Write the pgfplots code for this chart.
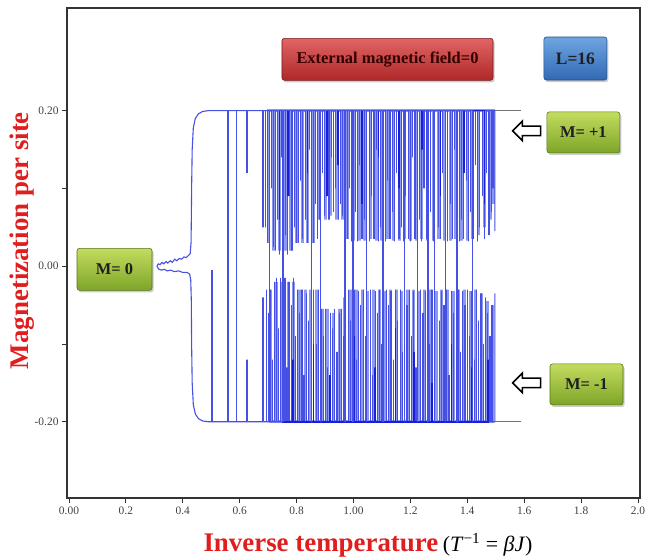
\documentclass[border=0pt]{standalone}
\usepackage{pgfplots}
\pgfplotsset{compat=1.18}
\usepackage{fontspec}
\setmainfont{Liberation Serif}
\usetikzlibrary{shadows,shapes.arrows}

\definecolor{trace}{RGB}{70,80,228}
\definecolor{tracedk}{RGB}{25,30,215}
\definecolor{tracelt}{RGB}{140,152,242}
\definecolor{labred}{RGB}{225,30,30}
\definecolor{redtop}{RGB}{225,100,100}
\definecolor{redbot}{RGB}{175,40,40}
\definecolor{bluetop}{RGB}{110,165,225}
\definecolor{bluebot}{RGB}{50,105,180}
\definecolor{greentop}{RGB}{195,220,95}
\definecolor{greenbot}{RGB}{125,165,40}

\tikzset{
  lbl/.style={rounded corners=2.5bp, line width=0.6bp,
    drop shadow={opacity=0.4,shadow xshift=1.5bp,shadow yshift=-2bp},
    font=\fontsize{16.5}{16.5}\selectfont\bfseries, text=black!88, inner sep=0pt},
  harrow/.style={single arrow, draw=black, line width=1.6bp, fill=white,
    minimum height=28bp, minimum width=0bp, inner sep=4bp,
    single arrow head extend=5bp, shape border rotate=180},
}

\begin{document}
\begin{tikzpicture}
\begin{axis}[
  scale only axis, width=573bp, height=490bp,
  xmin=-0.007, xmax=2.007, ymin=-0.298, ymax=0.332,
  axis line style={black!80, line width=1.4bp},
  tick align=outside, xtick pos=bottom, ytick pos=left,
  major tick length=5bp,
  tick style={black!80, line width=0.8bp},
  xtick={0,0.2,0.4,0.6,0.8,1.0,1.2,1.4,1.6,1.8,2.0},
  xticklabels={0.00,0.2,0.4,0.6,0.8,1.00,1.2,1.4,1.6,1.8,2.0},
  ytick={-0.2,-0.1,0,0.1,0.2},
  yticklabels={-0.20,,0.00,,0.20},
  ticklabel style={font=\fontsize{11.5}{12}\selectfont, text=black!75},
  /pgf/number format/assume math mode=true,
  clip=false,
]
\coordinate (bl) at (rel axis cs:0,0);
\coordinate (tr) at (rel axis cs:1,1);

% light dense bands (upper)
\addplot[tracelt, line width=3bp] coordinates {
(0.700,0.2)(0.700,0.03)(0.700,0.2)(0.720,0.2)(0.720,0.02)(0.720,0.2)
(0.740,0.2)(0.740,0.02)(0.740,0.2)(0.760,0.2)(0.760,0.02)(0.760,0.2)
(0.780,0.2)(0.780,0.02)(0.780,0.2)(0.800,0.2)(0.800,0.03)(0.800,0.2)
(0.820,0.2)(0.820,0.03)(0.820,0.2)(0.840,0.2)(0.840,0.03)(0.840,0.2)
(0.860,0.2)(0.860,0.03)(0.860,0.2)(0.880,0.2)(0.880,0.06)(0.880,0.2)
(0.900,0.2)(0.900,0.06)(0.900,0.2)(0.920,0.2)(0.920,0.065)(0.920,0.2)
(0.940,0.2)(0.940,0.06)(0.940,0.2)(0.960,0.2)(0.960,0.06)(0.960,0.2)
(0.980,0.2)(0.980,0.035)(0.980,0.2)(1.000,0.2)(1.000,0.033)(1.000,0.2)
(1.020,0.2)(1.020,0.033)(1.020,0.2)(1.040,0.2)(1.040,0.033)(1.040,0.2)
(1.060,0.2)(1.060,0.035)(1.060,0.2)(1.080,0.2)(1.080,0.033)(1.080,0.2)
(1.100,0.2)(1.100,0.033)(1.100,0.2)(1.120,0.2)(1.120,0.035)(1.120,0.2)
(1.140,0.2)(1.140,0.033)(1.140,0.2)(1.160,0.2)(1.160,0.033)(1.160,0.2)
(1.180,0.2)(1.180,0.035)(1.180,0.2)(1.200,0.2)(1.200,0.033)(1.200,0.2)
(1.220,0.2)(1.220,0.033)(1.220,0.2)(1.240,0.2)(1.240,0.035)(1.240,0.2)
(1.260,0.2)(1.260,0.033)(1.260,0.2)(1.280,0.2)(1.280,0.033)(1.280,0.2)
(1.300,0.2)(1.300,0.035)(1.300,0.2)(1.320,0.2)(1.320,0.033)(1.320,0.2)
(1.340,0.2)(1.340,0.033)(1.340,0.2)(1.360,0.2)(1.360,0.035)(1.360,0.2)
(1.380,0.2)(1.380,0.033)(1.380,0.2)(1.400,0.2)(1.400,0.033)(1.400,0.2)
(1.420,0.2)(1.420,0.035)(1.420,0.2)(1.440,0.2)(1.440,0.04)(1.440,0.2)
(1.460,0.2)(1.460,0.05)(1.460,0.2)(1.480,0.2)(1.480,0.06)(1.480,0.2)
(1.492,0.2)(1.492,0.08)(1.492,0.2)
};
% light dense bands (lower)
\addplot[tracelt, line width=3bp] coordinates {
(0.710,-0.2)(0.710,-0.03)(0.710,-0.2)(0.730,-0.2)(0.730,-0.02)(0.730,-0.2)
(0.750,-0.2)(0.750,-0.02)(0.750,-0.2)(0.770,-0.2)(0.770,-0.02)(0.770,-0.2)
(0.790,-0.2)(0.790,-0.02)(0.790,-0.2)(0.810,-0.2)(0.810,-0.03)(0.810,-0.2)
(0.830,-0.2)(0.830,-0.03)(0.830,-0.2)(0.850,-0.2)(0.850,-0.03)(0.850,-0.2)
(0.870,-0.2)(0.870,-0.03)(0.870,-0.2)(0.890,-0.2)(0.890,-0.055)(0.890,-0.2)
(0.910,-0.2)(0.910,-0.055)(0.910,-0.2)(0.930,-0.2)(0.930,-0.06)(0.930,-0.2)
(0.950,-0.2)(0.950,-0.055)(0.950,-0.2)(0.970,-0.2)(0.970,-0.04)(0.970,-0.2)
(0.990,-0.2)(0.990,-0.03)(0.990,-0.2)(1.010,-0.2)(1.010,-0.03)(1.010,-0.2)
(1.030,-0.2)(1.030,-0.03)(1.030,-0.2)(1.050,-0.2)(1.050,-0.032)(1.050,-0.2)
(1.070,-0.2)(1.070,-0.03)(1.070,-0.2)(1.090,-0.2)(1.090,-0.03)(1.090,-0.2)
(1.110,-0.2)(1.110,-0.032)(1.110,-0.2)(1.130,-0.2)(1.130,-0.03)(1.130,-0.2)
(1.150,-0.2)(1.150,-0.03)(1.150,-0.2)(1.170,-0.2)(1.170,-0.032)(1.170,-0.2)
(1.190,-0.2)(1.190,-0.03)(1.190,-0.2)(1.210,-0.2)(1.210,-0.03)(1.210,-0.2)
(1.230,-0.2)(1.230,-0.032)(1.230,-0.2)(1.250,-0.2)(1.250,-0.03)(1.250,-0.2)
(1.270,-0.2)(1.270,-0.03)(1.270,-0.2)(1.290,-0.2)(1.290,-0.032)(1.290,-0.2)
(1.310,-0.2)(1.310,-0.03)(1.310,-0.2)(1.330,-0.2)(1.330,-0.03)(1.330,-0.2)
(1.350,-0.2)(1.350,-0.032)(1.350,-0.2)(1.370,-0.2)(1.370,-0.03)(1.370,-0.2)
(1.390,-0.2)(1.390,-0.03)(1.390,-0.2)(1.410,-0.2)(1.410,-0.032)(1.410,-0.2)
(1.430,-0.2)(1.430,-0.03)(1.430,-0.2)(1.450,-0.2)(1.450,-0.035)(1.450,-0.2)
(1.470,-0.2)(1.470,-0.045)(1.470,-0.2)(1.488,-0.2)(1.488,-0.05)(1.488,-0.2)
};

% base trace: wiggle, brace and branches
\addplot[trace, line width=1.1bp] coordinates {
(0.309,0.0)(0.314,0.003)(0.320,0.002)(0.327,0.005)(0.333,0.003)(0.341,0.006)
(0.347,0.004)(0.356,0.007)(0.363,0.005)(0.372,0.009)(0.379,0.007)(0.388,0.010)
(0.396,0.009)(0.404,0.012)(0.412,0.011)(0.420,0.014)(0.426,0.016)(0.429,0.03)
(0.430,0.06)(0.431,0.10)(0.433,0.15)(0.437,0.178)(0.444,0.190)(0.455,0.196)(0.470,0.199)
(0.490,0.2)(1.497,0.2)(1.497,0.045)
};
\addplot[trace, line width=1.1bp] coordinates {
(0.309,0.0)(0.316,-0.004)(0.325,-0.005)(0.335,-0.004)(0.345,-0.006)(0.358,-0.005)
(0.370,-0.007)(0.385,-0.006)(0.400,-0.008)(0.415,-0.008)(0.424,-0.010)(0.428,-0.018)
(0.430,-0.045)(0.431,-0.10)(0.433,-0.15)(0.437,-0.178)(0.444,-0.190)(0.455,-0.196)
(0.470,-0.199)(0.490,-0.2)(1.497,-0.2)(1.497,-0.035)
};

% upper spikes
\addplot[trace, line width=1.2bp] coordinates {
(0.626,0.2)(0.626,0.12)(0.626,0.2)(0.682,0.2)(0.682,0.05)(0.682,0.2)
(0.690,0.2)(0.690,0.05)(0.690,0.2)(0.697,0.2)(0.697,0.03)(0.697,0.2)
(0.711,0.2)(0.711,0.10)(0.711,0.2)(0.718,0.2)(0.718,0.025)(0.718,0.2)
(0.726,0.2)(0.726,0.02)(0.726,0.2)(0.733,0.2)(0.733,0.06)(0.733,0.2)
(0.740,0.2)(0.740,0.015)(0.740,0.2)(0.747,0.2)(0.747,0.14)(0.747,0.2)
(0.755,0.2)(0.755,0.015)(0.755,0.2)(0.762,0.2)(0.762,0.04)(0.762,0.2)
(0.769,0.2)(0.769,0.015)(0.769,0.2)(0.776,0.2)(0.776,0.09)(0.776,0.2)
(0.784,0.2)(0.784,0.02)(0.784,0.2)(0.792,0.2)(0.792,0.05)(0.792,0.2)
(0.799,0.2)(0.799,0.03)(0.799,0.2)(0.807,0.2)(0.807,0.03)(0.807,0.2)
(0.815,0.2)(0.815,0.11)(0.815,0.2)(0.822,0.2)(0.822,0.035)(0.822,0.2)
(0.830,0.2)(0.830,0.06)(0.830,0.2)(0.838,0.2)(0.838,0.03)(0.838,0.2)
(0.846,0.2)(0.846,0.15)(0.846,0.2)(0.858,0.2)(0.858,0.03)(0.858,0.2)
(0.866,0.2)(0.866,0.08)(0.866,0.2)(0.874,0.2)(0.874,0.035)(0.874,0.2)
(0.882,0.2)(0.882,0.06)(0.882,0.2)(0.890,0.2)(0.890,0.12)(0.890,0.2)
(0.898,0.2)(0.898,0.065)(0.898,0.2)(0.906,0.2)(0.906,0.09)(0.906,0.2)
(0.914,0.2)(0.914,0.06)(0.914,0.2)(0.922,0.2)(0.922,0.14)(0.922,0.2)
(0.930,0.2)(0.930,0.07)(0.930,0.2)(0.938,0.2)(0.938,0.10)(0.938,0.2)
(0.946,0.2)(0.946,0.06)(0.946,0.2)(0.954,0.2)(0.954,0.08)(0.954,0.2)
(0.962,0.2)(0.962,0.065)(0.962,0.2)(0.978,0.2)(0.978,0.035)(0.978,0.2)
(0.986,0.2)(0.986,0.10)(0.986,0.2)(0.994,0.2)(0.994,0.032)(0.994,0.2)
(1.006,0.2)(1.006,0.07)(1.006,0.2)(1.014,0.2)(1.014,0.032)(1.014,0.2)
(1.022,0.2)(1.022,0.13)(1.022,0.2)(1.030,0.2)(1.030,0.035)(1.030,0.2)
(1.038,0.2)(1.038,0.06)(1.038,0.2)(1.056,0.2)(1.056,0.032)(1.056,0.2)
(1.064,0.2)(1.064,0.09)(1.064,0.2)(1.072,0.2)(1.072,0.035)(1.072,0.2)
(1.080,0.2)(1.080,0.15)(1.080,0.2)(1.088,0.2)(1.088,0.032)(1.088,0.2)
(1.096,0.2)(1.096,0.05)(1.096,0.2)(1.112,0.2)(1.112,0.032)(1.112,0.2)
(1.120,0.2)(1.120,0.11)(1.120,0.2)(1.128,0.2)(1.128,0.035)(1.128,0.2)
(1.136,0.2)(1.136,0.07)(1.136,0.2)(1.144,0.2)(1.144,0.032)(1.144,0.2)
(1.152,0.2)(1.152,0.12)(1.152,0.2)(1.160,0.2)(1.160,0.035)(1.160,0.2)
(1.168,0.2)(1.168,0.05)(1.168,0.2)(1.176,0.2)(1.176,0.032)(1.176,0.2)
(1.184,0.2)(1.184,0.09)(1.184,0.2)(1.192,0.2)(1.192,0.035)(1.192,0.2)
(1.200,0.2)(1.200,0.032)(1.200,0.2)(1.208,0.2)(1.208,0.14)(1.208,0.2)
(1.216,0.2)(1.216,0.035)(1.216,0.2)(1.232,0.2)(1.232,0.06)(1.232,0.2)
(1.240,0.2)(1.240,0.032)(1.240,0.2)(1.248,0.2)(1.248,0.10)(1.248,0.2)
(1.256,0.2)(1.256,0.035)(1.256,0.2)(1.272,0.2)(1.272,0.07)(1.272,0.2)
(1.280,0.2)(1.280,0.032)(1.280,0.2)(1.298,0.2)(1.298,0.05)(1.298,0.2)
(1.306,0.2)(1.306,0.035)(1.306,0.2)(1.314,0.2)(1.314,0.12)(1.314,0.2)
(1.330,0.2)(1.330,0.032)(1.330,0.2)(1.340,0.2)(1.340,0.08)(1.340,0.2)
(1.348,0.2)(1.348,0.035)(1.348,0.2)(1.356,0.2)(1.356,0.15)(1.356,0.2)
(1.372,0.2)(1.372,0.032)(1.372,0.2)(1.380,0.2)(1.380,0.06)(1.380,0.2)
(1.388,0.2)(1.388,0.035)(1.388,0.2)(1.396,0.2)(1.396,0.11)(1.396,0.2)
(1.404,0.2)(1.404,0.032)(1.404,0.2)(1.412,0.2)(1.412,0.07)(1.412,0.2)
(1.420,0.2)(1.420,0.035)(1.420,0.2)(1.428,0.2)(1.428,0.13)(1.428,0.2)
(1.436,0.2)(1.436,0.032)(1.436,0.2)(1.444,0.2)(1.444,0.05)(1.444,0.2)
(1.452,0.2)(1.452,0.09)(1.452,0.2)(1.460,0.2)(1.460,0.035)(1.460,0.2)
(1.468,0.2)(1.468,0.12)(1.468,0.2)(1.476,0.2)(1.476,0.04)(1.476,0.2)
(1.484,0.2)(1.484,0.07)(1.484,0.2)(1.490,0.2)(1.490,0.10)(1.490,0.2)
};

% lower spikes
\addplot[trace, line width=1.2bp] coordinates {
(0.503,-0.2)(0.503,-0.005)(0.503,-0.2)(0.626,-0.2)(0.626,-0.12)(0.626,-0.2)
(0.682,-0.2)(0.682,-0.04)(0.682,-0.2)(0.693,-0.2)(0.693,-0.03)(0.693,-0.2)
(0.700,-0.2)(0.700,-0.06)(0.700,-0.2)(0.708,-0.2)(0.708,-0.03)(0.708,-0.2)
(0.715,-0.2)(0.715,-0.12)(0.715,-0.2)(0.722,-0.2)(0.722,-0.02)(0.722,-0.2)
(0.730,-0.2)(0.730,-0.015)(0.730,-0.2)(0.737,-0.2)(0.737,-0.08)(0.737,-0.2)
(0.744,-0.2)(0.744,-0.015)(0.744,-0.2)(0.751,-0.2)(0.751,-0.03)(0.751,-0.2)
(0.759,-0.2)(0.759,-0.015)(0.759,-0.2)(0.766,-0.2)(0.766,-0.13)(0.766,-0.2)
(0.773,-0.2)(0.773,-0.02)(0.773,-0.2)(0.781,-0.2)(0.781,-0.05)(0.781,-0.2)
(0.788,-0.2)(0.788,-0.015)(0.788,-0.2)(0.796,-0.2)(0.796,-0.09)(0.796,-0.2)
(0.803,-0.2)(0.803,-0.03)(0.803,-0.2)(0.811,-0.2)(0.811,-0.06)(0.811,-0.2)
(0.819,-0.2)(0.819,-0.03)(0.819,-0.2)(0.826,-0.2)(0.826,-0.14)(0.826,-0.2)
(0.834,-0.2)(0.834,-0.035)(0.834,-0.2)(0.842,-0.2)(0.842,-0.07)(0.842,-0.2)
(0.860,-0.2)(0.860,-0.03)(0.860,-0.2)(0.869,-0.2)(0.869,-0.10)(0.869,-0.2)
(0.877,-0.2)(0.877,-0.03)(0.877,-0.2)(0.886,-0.2)(0.886,-0.055)(0.886,-0.2)
(0.894,-0.2)(0.894,-0.09)(0.894,-0.2)(0.902,-0.2)(0.902,-0.055)(0.902,-0.2)
(0.910,-0.2)(0.910,-0.13)(0.910,-0.2)(0.918,-0.2)(0.918,-0.06)(0.918,-0.2)
(0.926,-0.2)(0.926,-0.08)(0.926,-0.2)(0.934,-0.2)(0.934,-0.055)(0.934,-0.2)
(0.942,-0.2)(0.942,-0.11)(0.942,-0.2)(0.950,-0.2)(0.950,-0.06)(0.950,-0.2)
(0.958,-0.2)(0.958,-0.055)(0.958,-0.2)(0.966,-0.2)(0.966,-0.09)(0.966,-0.2)
(0.982,-0.2)(0.982,-0.03)(0.982,-0.2)(0.990,-0.2)(0.990,-0.07)(0.990,-0.2)
(1.002,-0.2)(1.002,-0.03)(1.002,-0.2)(1.010,-0.2)(1.010,-0.12)(1.010,-0.2)
(1.018,-0.2)(1.018,-0.032)(1.018,-0.2)(1.026,-0.2)(1.026,-0.05)(1.026,-0.2)
(1.034,-0.2)(1.034,-0.03)(1.034,-0.2)(1.042,-0.2)(1.042,-0.09)(1.042,-0.2)
(1.060,-0.2)(1.060,-0.03)(1.060,-0.2)(1.068,-0.2)(1.068,-0.14)(1.068,-0.2)
(1.076,-0.2)(1.076,-0.032)(1.076,-0.2)(1.084,-0.2)(1.084,-0.06)(1.084,-0.2)
(1.092,-0.2)(1.092,-0.03)(1.092,-0.2)(1.100,-0.2)(1.100,-0.10)(1.100,-0.2)
(1.116,-0.2)(1.116,-0.03)(1.116,-0.2)(1.124,-0.2)(1.124,-0.05)(1.124,-0.2)
(1.132,-0.2)(1.132,-0.032)(1.132,-0.2)(1.140,-0.2)(1.140,-0.12)(1.140,-0.2)
(1.148,-0.2)(1.148,-0.03)(1.148,-0.2)(1.156,-0.2)(1.156,-0.07)(1.156,-0.2)
(1.164,-0.2)(1.164,-0.03)(1.164,-0.2)(1.172,-0.2)(1.172,-0.11)(1.172,-0.2)
(1.180,-0.2)(1.180,-0.032)(1.180,-0.2)(1.188,-0.2)(1.188,-0.05)(1.188,-0.2)
(1.196,-0.2)(1.196,-0.03)(1.196,-0.2)(1.204,-0.2)(1.204,-0.09)(1.204,-0.2)
(1.212,-0.2)(1.212,-0.032)(1.212,-0.2)(1.220,-0.2)(1.220,-0.13)(1.220,-0.2)
(1.236,-0.2)(1.236,-0.03)(1.236,-0.2)(1.244,-0.2)(1.244,-0.06)(1.244,-0.2)
(1.252,-0.2)(1.252,-0.032)(1.252,-0.2)(1.268,-0.2)(1.268,-0.10)(1.268,-0.2)
(1.276,-0.2)(1.276,-0.03)(1.276,-0.2)(1.302,-0.2)(1.302,-0.07)(1.302,-0.2)
(1.310,-0.2)(1.310,-0.032)(1.310,-0.2)(1.318,-0.2)(1.318,-0.05)(1.318,-0.2)
(1.326,-0.2)(1.326,-0.03)(1.326,-0.2)(1.336,-0.2)(1.336,-0.14)(1.336,-0.2)
(1.344,-0.2)(1.344,-0.032)(1.344,-0.2)(1.352,-0.2)(1.352,-0.06)(1.352,-0.2)
(1.368,-0.2)(1.368,-0.03)(1.368,-0.2)(1.376,-0.2)(1.376,-0.11)(1.376,-0.2)
(1.384,-0.2)(1.384,-0.032)(1.384,-0.2)(1.392,-0.2)(1.392,-0.05)(1.392,-0.2)
(1.400,-0.2)(1.400,-0.03)(1.400,-0.2)(1.408,-0.2)(1.408,-0.09)(1.408,-0.2)
(1.416,-0.2)(1.416,-0.032)(1.416,-0.2)(1.424,-0.2)(1.424,-0.12)(1.424,-0.2)
(1.432,-0.2)(1.432,-0.03)(1.432,-0.2)(1.440,-0.2)(1.440,-0.07)(1.440,-0.2)
(1.448,-0.2)(1.448,-0.035)(1.448,-0.2)(1.456,-0.2)(1.456,-0.10)(1.456,-0.2)
(1.464,-0.2)(1.464,-0.04)(1.464,-0.2)(1.472,-0.2)(1.472,-0.06)(1.472,-0.2)
(1.480,-0.2)(1.480,-0.09)(1.480,-0.2)(1.487,-0.2)(1.487,-0.05)(1.487,-0.2)
};

% dark strokes within the dense region
\addplot[tracedk, line width=1.5bp] coordinates {
(0.740,0.2)(0.740,0.06)(0.740,0.2)(0.769,0.2)(0.769,0.09)(0.769,0.2)
(0.838,0.2)(0.838,0.12)(0.838,0.2)(0.906,0.2)(0.906,0.09)(0.906,0.2)
(0.946,0.2)(0.946,0.13)(0.946,0.2)(1.030,0.2)(1.030,0.08)(1.030,0.2)
(1.088,0.2)(1.088,0.14)(1.088,0.2)(1.160,0.2)(1.160,0.10)(1.160,0.2)
(1.240,0.2)(1.240,0.15)(1.240,0.2)(1.306,0.2)(1.306,0.09)(1.306,0.2)
(1.388,0.2)(1.388,0.12)(1.388,0.2)(1.460,0.2)(1.460,0.08)(1.460,0.2)
};
\addplot[tracedk, line width=1.5bp] coordinates {
(0.751,-0.2)(0.751,-0.07)(0.751,-0.2)(0.788,-0.2)(0.788,-0.12)(0.788,-0.2)
(0.860,-0.2)(0.860,-0.10)(0.860,-0.2)(0.918,-0.2)(0.918,-0.14)(0.918,-0.2)
(1.002,-0.2)(1.002,-0.09)(1.002,-0.2)(1.076,-0.2)(1.076,-0.13)(1.076,-0.2)
(1.148,-0.2)(1.148,-0.08)(1.148,-0.2)(1.212,-0.2)(1.212,-0.11)(1.212,-0.2)
(1.276,-0.2)(1.276,-0.15)(1.276,-0.2)(1.344,-0.2)(1.344,-0.10)(1.344,-0.2)
(1.416,-0.2)(1.416,-0.13)(1.416,-0.2)(1.472,-0.2)(1.472,-0.12)(1.472,-0.2)
};

% full crossings between the branches
\addplot[trace, line width=1.2bp] coordinates {
(0.559,0.2)(0.559,-0.2)(0.559,0.2)(0.590,0.2)(0.590,-0.2)(0.590,0.2)
(0.704,0.2)(0.704,-0.2)(0.704,0.2)(0.752,0.2)(0.752,-0.2)(0.752,0.2)
(0.851,0.2)(0.851,-0.2)(0.851,0.2)(0.885,0.2)(0.885,-0.2)(0.885,0.2)
(0.970,0.2)(0.970,-0.2)(0.970,0.2)(0.998,0.2)(0.998,-0.2)(0.998,0.2)
(1.047,0.2)(1.047,-0.2)(1.047,0.2)(1.104,0.2)(1.104,-0.2)(1.104,0.2)
(1.180,0.2)(1.180,-0.2)(1.180,0.2)(1.224,0.2)(1.224,-0.2)(1.224,0.2)
(1.262,0.2)(1.262,-0.2)(1.262,0.2)(1.286,0.2)(1.286,-0.2)(1.286,0.2)
(1.322,0.2)(1.322,-0.2)(1.322,0.2)(1.364,0.2)(1.364,-0.2)(1.364,0.2)
(1.417,0.2)(1.417,-0.2)(1.417,0.2)
};

% grey tails
\addplot[black!55, line width=1.1bp] coordinates {(1.497,0.2)(1.590,0.2)};
\addplot[black!55, line width=1.1bp] coordinates {(1.497,-0.2)(1.590,-0.2)};

% annotations
\node[lbl, draw=redbot!70!black, top color=redtop, bottom color=redbot,
  minimum width=211bp, minimum height=42bp, text=black!80!red]
  at (axis cs:1.1195,0.266) {External magnetic field=0};
\node[lbl, draw=bluebot!70!black, top color=bluetop, bottom color=bluebot,
  minimum width=63bp, minimum height=43bp, font=\fontsize{17.5}{17.5}\selectfont\bfseries]
  at (axis cs:1.780,0.267) {L=16};
\node[lbl, draw=greenbot!70!black, top color=greentop, bottom color=greenbot,
  minimum width=73bp, minimum height=41bp]
  at (axis cs:1.808,0.172) {M= +1};
\node[lbl, draw=greenbot!70!black, top color=greentop, bottom color=greenbot,
  minimum width=73bp, minimum height=41bp]
  at (axis cs:1.819,-0.152) {M= -1};
\node[lbl, draw=greenbot!70!black, top color=greentop, bottom color=greenbot,
  minimum width=75bp, minimum height=42bp]
  at (axis cs:0.160,-0.004) {M= 0};
\node[harrow] at (axis cs:1.617,0.174) {};
\node[harrow] at (axis cs:1.617,-0.150) {};

% axis titles
\node[rotate=90, text=labred, font=\fontsize{27}{27}\selectfont\bfseries]
  at (axis cs:-0.165,0.033) {Magnetization per site};
\node[font=\fontsize{27}{27}\selectfont]
  at (axis cs:1.051,-0.359)
  {\textcolor{labred}{\bfseries Inverse temperature}\,{\fontsize{22}{22}\selectfont(\textit{T}\textsuperscript{−1} = \textit{βJ})}};
\end{axis}
\pgfresetboundingbox
\path ([shift={(-67bp,-60bp)}]bl) rectangle ([shift={(22bp,8bp)}]tr);
\end{tikzpicture}
\end{document}
